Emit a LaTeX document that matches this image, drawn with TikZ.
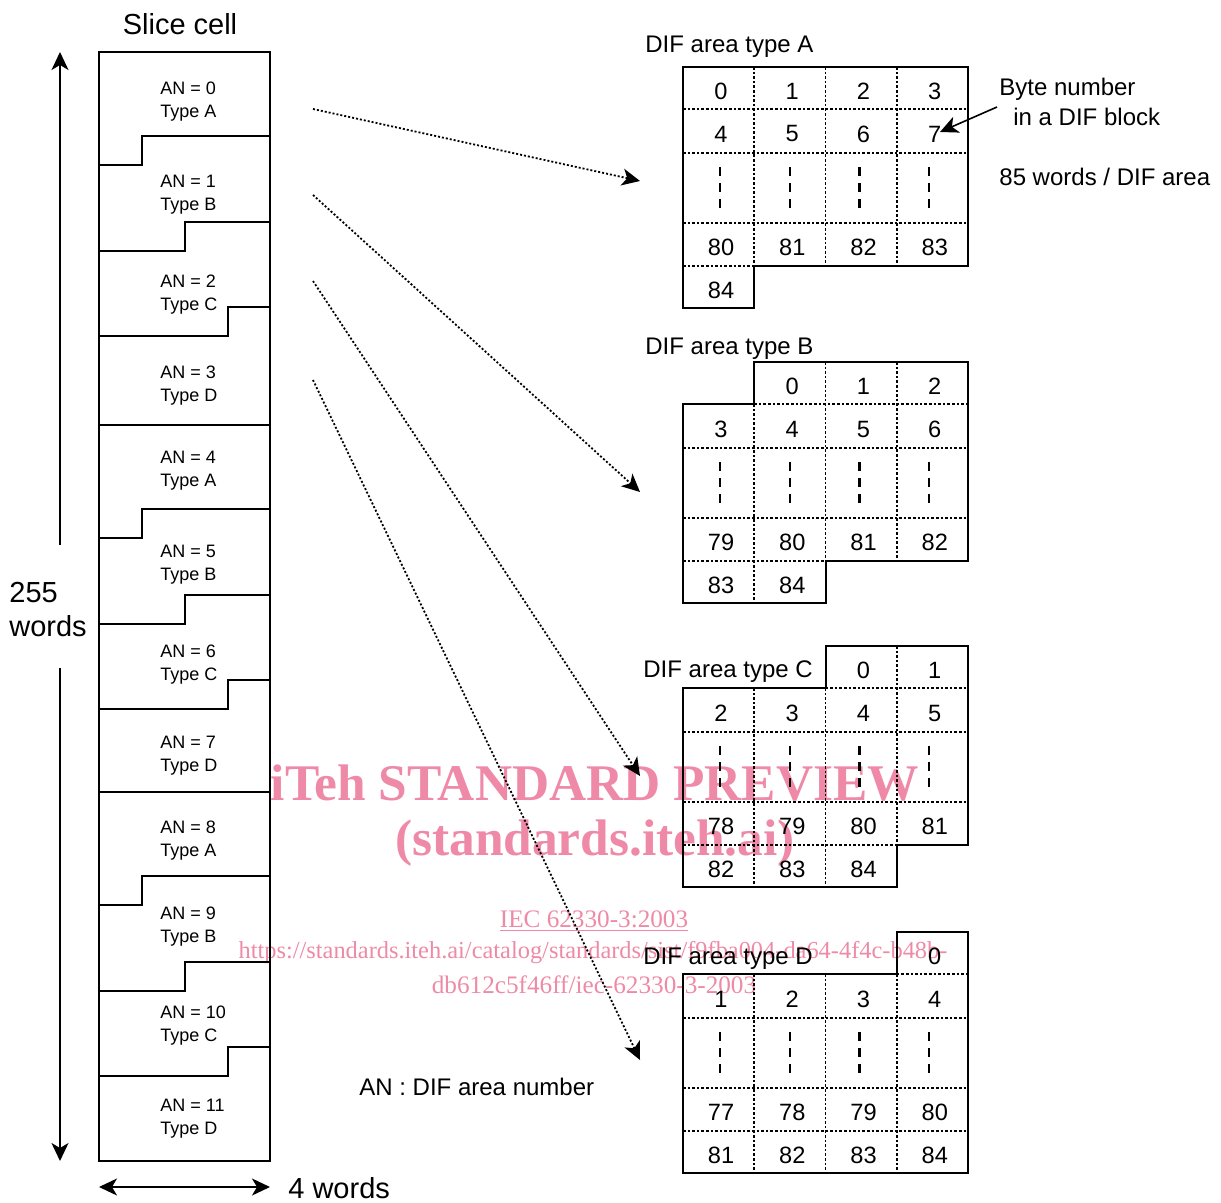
\documentclass[tikz,border=0pt]{standalone}
\usepackage{fontspec}
\setmainfont{Liberation Sans}
\newfontfamily\wmfont{Liberation Serif}
\usetikzlibrary{arrows.meta}
\definecolor{wmpink}{RGB}{238,138,168}

\begin{document}
\begin{tikzpicture}[x=0.5pt,y=-0.5pt,
    >={Stealth[length=9pt,width=8.5pt,inset=2.5pt]},
    cell label/.style={anchor=west,align=left,inner sep=0pt,font=\fontsize{9}{11.5}\selectfont},
    big label/.style={font=\fontsize{14.5}{17}\selectfont},
    dif label/.style={anchor=west,inner sep=0pt,font=\fontsize{12}{14.5}\selectfont},
    num label/.style={inner sep=0pt,font=\fontsize{11.8}{14}\selectfont},
    grid dots/.style={line width=0.9pt,dash pattern=on 1.3pt off 1pt},
    gap dash/.style={line width=1.1pt,dash pattern=on 4.5pt off 3.5pt},
    map arrow/.style={line width=0.9pt,dash pattern=on 1pt off 1pt,->},
    span arrow/.style={line width=0.8pt},
    watermark/.style={text=wmpink,inner sep=0pt}]
\useasboundingbox (0,0) rectangle (1221,1203);

% Watermark
\node[watermark,font=\wmfont\bfseries\fontsize{25.7}{30}\selectfont] (wm1) at (595,783) {iTeh STANDARD PREVIEW};
\node[watermark,font=\wmfont\bfseries\fontsize{25.7}{30}\selectfont] (wm2) at (595,843) {(standards.iteh.ai)};
\node[watermark,font=\wmfont\fontsize{12.6}{15}\selectfont] (wm3) at (594,921) {\underline{IEC 62330-3:2003}};
\node[watermark,font=\wmfont\fontsize{12.2}{15}\selectfont] (wm4) at (593,953) {https://standards.iteh.ai/catalog/standards/sist/f9fba004-da64-4f4c-b48b-};
\node[watermark,font=\wmfont\fontsize{12.6}{15}\selectfont] (wm5) at (594,985) {db612c5f46ff/iec-62330-3-2003};

% Slice cell
\node[big label] (slice) at (180,24) {Slice cell};
\draw[line width=1pt] (99,52) rectangle (270,1161);
\foreach \ty in {52,425,792}{
  \draw[line width=1pt] (270,\ty+84) -| (142,\ty+113) -- (99,\ty+113);
  \draw[line width=1pt] (270,\ty+170) -| (185,\ty+199) -- (99,\ty+199);
  \draw[line width=1pt] (270,\ty+255) -| (228,\ty+284) -- (99,\ty+284);
}
\draw[line width=1pt] (99,425) -- (270,425) (99,792) -- (270,792);
\foreach \n/\yy/\t in {0/87/A,1/180/B,2/280/C,3/371/D,4/456/A,5/550/B,6/650/C,7/741/D,8/826/A,9/912/B,10/1011/C,11/1104/D}
  \node[cell label] (an\n) at (160,\yy+15) {AN = \n\\Type \t};

% 255 words / 4 words
\node[big label,anchor=west,align=left,inner sep=0pt] (w255) at (9,610) {255\\words};
\coordinate (wtop) at (60,52);
\coordinate (wgap1) at (60,545);
\coordinate (wgap2) at (60,668);
\coordinate (wbot) at (60,1161);
\draw[span arrow,->] (wgap1) -- (wtop);
\draw[span arrow,->] (wgap2) -- (wbot);
\coordinate (wl) at (99,1187);
\coordinate (wr) at (270,1187);
\draw[span arrow,<->] (wl) -- (wr);
\node[big label,anchor=west,inner sep=0pt] (w4) at (288,1188) {4 words};
\node[dif label] (annote) at (359,1087) {AN : DIF area number};

% DIF areas
\node[dif label] (titleA) at (645,47) {DIF area type A};
\node[dif label] (titleB) at (645,349) {DIF area type B};
\node[dif label] (titleC) at (643,672) {DIF area type C};
\node[dif label] (titleD) at (643,959) {DIF area type D};
\foreach \st/\ty/\tl in {0/67/A,1/362/B,2/646/C,3/932/D}{
  % dotted cell lines
  \draw[grid dots] ({683+71.25*\st},\ty+42) -- (968,\ty+42)
                   (683,\ty+86) -- (968,\ty+86)
                   (683,\ty+156) -- (968,\ty+156)
                   (683,\ty+199) -- ({683+71.25*(\st+1)},\ty+199);
  \foreach \i in {1,2,3}{
    \pgfmathsetmacro\vt{\i>\st ? \ty : \ty+42}
    \pgfmathsetmacro\vb{\i>\st ? \ty+199 : \ty+241}
    \draw[grid dots] ({683+71.25*\i},\vt) -- ({683+71.25*\i},\vb);
  }
  \foreach \j in {0,...,3}
    \draw[gap dash] ({720+69.7*\j},\ty+100) -- ({720+69.7*\j},\ty+142);
  % outline
  \draw[line width=1pt] ({683+71.25*\st},\ty) -- (968,\ty) -- (968,\ty+199)
    -- ({683+71.25*(\st+1)},\ty+199) -- ({683+71.25*(\st+1)},\ty+241)
    -- (683,\ty+241) -- (683,\ty+42) -- ({683+71.25*\st},\ty+42) -- cycle;
  % byte numbers
  \foreach \j in {\st,...,3}{
    \pgfmathtruncatemacro\num{\j-\st}
    \node[num label] (\tl-0-\j) at ({721+71.25*\j},\ty+24.5) {\num};
  }
  \foreach \j in {0,...,3}{
    \pgfmathtruncatemacro\num{4-\st+\j}
    \node[num label] (\tl-1-\j) at ({721+71.25*\j},\ty+67) {\num};
    \pgfmathtruncatemacro\num{80-\st+\j}
    \node[num label] (\tl-3-\j) at ({721+71.25*\j},\ty+180.5) {\num};
  }
  \foreach \j in {0,...,\st}{
    \pgfmathtruncatemacro\num{84-\st+\j}
    \node[num label] (\tl-4-\j) at ({721+71.25*\j},\ty+223.5) {\num};
  }
}

% Notes
\node[dif label] (byte1) at (999,89) {Byte number};
\node[dif label] (byte2) at (1013,117) {in a DIF block};
\node[dif label] (words85) at (999,177) {85 words / DIF area};
\coordinate (bytefrom) at (997,107);
\coordinate (byteto) at (940,132);
\draw[span arrow,->] (bytefrom) -- (byteto);

% Mapping arrows
\coordinate (fromA) at (313,109);
\coordinate (fromB) at (313,195);
\coordinate (fromC) at (313,281);
\coordinate (fromD) at (313,380);
\coordinate (toA) at (640,181);
\coordinate (toB) at (640,492);
\coordinate (toC) at (640,776);
\coordinate (toD) at (640,1060);
\draw[map arrow] (fromA) -- (toA);
\draw[map arrow] (fromB) -- (toB);
\draw[map arrow] (fromC) -- (toC);
\draw[map arrow] (fromD) -- (toD);
\end{tikzpicture}
\end{document}
